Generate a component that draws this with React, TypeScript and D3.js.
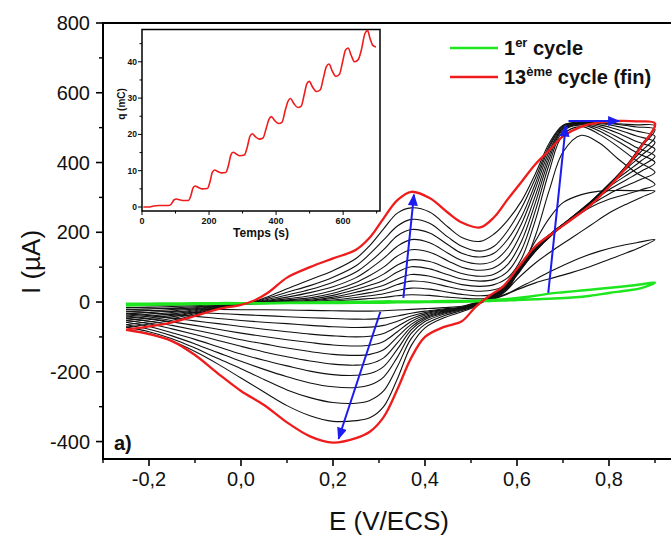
import React from 'react';
import * as d3 from 'd3';

const W = 671;
const H = 537;

// Potential grids (V/ECS)
const E_FWD = [-0.25, -0.2, -0.15, -0.1, -0.05, 0.0, 0.03, 0.06, 0.1, 0.15, 0.2, 0.25, 0.28, 0.31, 0.34, 0.37, 0.41, 0.45, 0.48, 0.52, 0.55, 0.58, 0.61, 0.64, 0.67, 0.7, 0.74, 0.78, 0.82, 0.86, 0.9];
const E_REV = [0.9, 0.87, 0.84, 0.8, 0.76, 0.72, 0.68, 0.64, 0.6, 0.57, 0.54, 0.51, 0.48, 0.44, 0.4, 0.37, 0.34, 0.31, 0.28, 0.25, 0.2, 0.15, 0.1, 0.05, 0.0, -0.05, -0.1, -0.15, -0.2, -0.25];

// Current (µA), forward scans, cycles 1..13
const I_FWD = [
  [-5, -4.5, -4, -3.5, -3, -3, -3, -3, -2, -1, 0, 1, 1, 2, 2, 2, 2, 3, 3, 4, 6, 9, 13, 18, 24, 28, 33, 38, 43, 49, 56],
  [-10, -9.4, -8.8, -7.9, -6.8, -6.1, -5, -4, -3, 0, 3, 7, 10, 13, 18, 21, 19, 14, 11, 9, 12, 25, 45, 65, 86, 105, 128, 146, 160, 170, 179],
  [-16, -14.6, -13, -10.7, -8, -6.2, -5, -3, -1, 1, 6, 13, 18, 24, 33, 40, 37, 28, 22, 18, 22, 40, 105, 175, 240, 285, 308, 318, 320, 319, 318],
  [-22, -19.8, -17.2, -13.5, -9.2, -6.3, -4, -2, 0, 3, 10, 20, 27, 35, 50, 60, 56, 44, 36, 31, 35, 52, 95, 190, 320, 430, 478, 455, 410, 370, 337],
  [-28, -24.9, -21.4, -16.3, -10.4, -6.4, -4, -1, 2, 5, 14, 28, 37, 48, 66, 79, 74, 60, 50, 45, 50, 70, 125, 235, 375, 480, 503, 480, 445, 405, 372],
  [-34, -30, -25.6, -19.2, -11.6, -6.6, -3, 0, 4, 8, 19, 36, 48, 62, 86, 101, 95, 78, 66, 60, 65, 88, 150, 262, 395, 490, 508, 490, 460, 428, 400],
  [-40, -35, -29.8, -22, -12.8, -6.7, -3, 1, 6, 12, 25, 45, 60, 80, 106, 121, 116, 96, 82, 74, 80, 108, 175, 285, 410, 495, 510, 497, 472, 443, 418],
  [-46, -40.4, -34, -24.8, -14, -6.8, -2, 3, 9, 18, 33, 56, 76, 100, 132, 150, 143, 118, 100, 91, 98, 130, 200, 305, 422, 498, 512, 503, 484, 460, 438],
  [-52, -45.6, -38.2, -27.6, -15.2, -6.9, -1, 5, 14, 27, 44, 70, 95, 125, 160, 179, 170, 140, 119, 109, 118, 155, 225, 325, 432, 500, 513, 508, 494, 476, 458],
  [-58, -50.7, -42.4, -30.4, -16.4, -7, 0, 8, 20, 36, 57, 86, 115, 150, 190, 208, 198, 164, 140, 129, 140, 180, 245, 340, 442, 503, 514, 512, 503, 490, 475],
  [-65, -56.7, -47.3, -33.7, -17.8, -7.2, 1, 12, 28, 47, 71, 104, 138, 178, 218, 237, 226, 186, 160, 146, 160, 205, 270, 355, 448, 505, 515, 514, 509, 502, 495],
  [-72, -62.8, -52.2, -37, -19.2, -7.3, 2, 16, 38, 64, 90, 125, 162, 210, 255, 270, 258, 215, 185, 174, 195, 235, 290, 368, 455, 507, 516, 514, 511, 508, 505],
  [-79, -70, -58, -40, -20, -8, 5, 28, 70, 100, 125, 150, 185, 240, 292, 316, 298, 256, 228, 214, 243, 295, 345, 395, 435, 475, 503, 515, 519, 518, 512],
];

// Current (µA), reverse scans, cycles 1..13
const I_REV = [
  [56, 40, 33, 26, 18, 13, 10, 8, 6, 4, 3, 2, 1, 0, 0, -1, -1, -2, -2, -2, -3, -3, -3, -4, -4, -5, -6, -7, -8, -10],
  [179, 158, 142, 122, 102, 85, 70, 55, 35, 18, 5, -2, -12, -16, -19, -21, -23, -25, -26, -26, -25, -24, -23, -22, -22, -21, -20, -19, -17, -16],
  [318, 300, 282, 255, 220, 185, 150, 112, 65, 25, 6, -3, -14, -20, -26, -32, -40, -46, -49, -49, -47, -45, -42, -39, -36, -33, -30, -27, -24, -22],
  [337, 322, 310, 295, 272, 238, 197, 145, 78, 28, 7, -4, -15, -22, -30, -40, -55, -67, -72, -73, -71, -67, -62, -58, -53, -47, -41, -36, -31, -28],
  [372, 352, 335, 310, 278, 240, 198, 146, 79, 29, 7, -5, -16, -24, -34, -48, -70, -90, -98, -100, -97, -92, -85, -78, -70, -62, -54, -46, -39, -34],
  [400, 375, 352, 322, 284, 243, 200, 148, 80, 30, 8, -6, -17, -26, -38, -56, -85, -113, -124, -126, -123, -116, -108, -99, -89, -78, -67, -57, -47, -40],
  [418, 390, 365, 330, 287, 244, 201, 150, 82, 32, 9, -7, -18, -28, -42, -64, -100, -137, -150, -153, -150, -142, -132, -120, -108, -94, -80, -67, -55, -46],
  [438, 405, 375, 335, 288, 244, 202, 152, 84, 34, 10, -8, -19, -30, -46, -72, -117, -160, -177, -181, -178, -169, -157, -143, -127, -110, -93, -77, -62, -52],
  [458, 420, 385, 338, 287, 243, 203, 154, 86, 36, 11, -9, -20, -32, -50, -80, -135, -185, -205, -210, -208, -198, -183, -167, -149, -128, -107, -88, -70, -58],
  [475, 432, 390, 338, 285, 242, 203, 156, 88, 38, 12, -10, -22, -35, -56, -90, -158, -215, -238, -245, -243, -232, -214, -193, -170, -145, -120, -97, -78, -65],
  [495, 445, 395, 337, 283, 241, 203, 158, 90, 40, 14, -11, -24, -40, -64, -105, -185, -255, -282, -290, -288, -274, -252, -222, -191, -162, -132, -105, -85, -72],
  [505, 450, 395, 335, 282, 240, 202, 160, 92, 42, 16, -12, -28, -46, -74, -125, -220, -300, -332, -340, -342, -326, -297, -258, -218, -178, -142, -112, -90, -79],
  [512, 445, 390, 330, 278, 238, 200, 160, 95, 45, 18, -14, -55, -72, -100, -160, -250, -330, -372, -390, -403, -385, -345, -295, -255, -205, -152, -112, -92, -80],
];

const X_TICKS = [-0.2, 0, 0.2, 0.4, 0.6, 0.8];
const X_TICK_LABELS = ['-0,2', '0,0', '0,2', '0,4', '0,6', '0,8'];
const X_MINOR = [-0.3, -0.1, 0.1, 0.3, 0.5, 0.7, 0.9];
const Y_TICKS = [-400, -200, 0, 200, 400, 600, 800];
const Y_MINOR = [-300, -100, 100, 300, 500, 700];

// Inset: charge vs time
const INSET_T = [4, 20, 35, 50, 80, 88, 96, 103, 112, 125, 138, 146, 152, 158, 168, 180, 195, 203, 210, 217, 226, 238, 250, 258, 265, 272, 281, 292, 305, 314, 322, 329, 338, 350, 361, 370, 379, 386, 396, 408, 418, 427, 436, 443, 453, 465, 475, 484, 492, 499, 509, 521, 532, 541, 550, 558, 567, 578, 589, 598, 607, 615, 624, 634, 645, 655, 665, 673, 680, 688, 698];
const INSET_Q = [0, 0, 0.3, 0.4, 0.4, 0.9, 2.0, 2.2, 2.0, 1.8, 1.8, 3.2, 5.2, 5.8, 5.4, 5.0, 5.1, 7.0, 9.6, 10.2, 9.8, 9.4, 9.5, 11.5, 14.3, 15.1, 14.6, 14.1, 14.3, 16.5, 19.5, 20.2, 19.4, 18.7, 19.0, 21.5, 24.2, 24.9, 23.8, 23.0, 23.4, 26.5, 29.2, 29.9, 28.5, 27.4, 27.8, 31.0, 34.0, 34.6, 33.0, 31.8, 32.3, 35.5, 38.7, 39.4, 37.6, 36.0, 36.6, 39.8, 43.2, 43.8, 41.8, 40.0, 40.6, 43.5, 47.8, 48.6, 46.5, 44.6, 44.1];
const INSET_X_TICKS = [0, 200, 400, 600];
const INSET_X_MINOR = [100, 300, 500, 700];
const INSET_Y_TICKS = [0, 10, 20, 30, 40];
const INSET_Y_MINOR = [5, 15, 25, 35, 45];

// Blue arrows [E, I] start -> end
const ARROWS = [
  { from: [0.353, 12], to: [0.376, 308] },
  { from: [0.303, -28], to: [0.212, -392] },
  { from: [0.668, 26], to: [0.706, 506] },
  { from: [0.712, 519], to: [0.822, 519] },
];

const FONT = "'Liberation Sans', Arial, sans-serif";
const BLUE = '#1c1cf0';

export default function App() {
  const x = d3.scaleLinear().domain([-0.3, 0.95]).range([103, 678]);
  const y = d3.scaleLinear().domain([-450, 800]).range([459, 23]);
  const line = d3
    .line<[number, number]>()
    .x((d) => x(d[0]))
    .y((d) => y(d[1]))
    .curve(d3.curveCatmullRom.alpha(0.5));

  const cyclePath = (k: number) => {
    const pts: [number, number][] = [];
    E_FWD.forEach((e, i) => pts.push([e, I_FWD[k][i]]));
    E_REV.forEach((e, i) => {
      if (i > 0) pts.push([e, I_REV[k][i]]);
    });
    return line(pts) || '';
  };

  const xi = d3.scaleLinear().domain([0, 710]).range([142, 380]);
  const yi = d3.scaleLinear().domain([-1.1, 48.9]).range([211, 29.5]);
  const insetLine = d3
    .line<number>()
    .x((_, i) => xi(INSET_T[i]))
    .y((d) => yi(d))
    .curve(d3.curveMonotoneX);

  const blacks = d3.range(1, 12);

  return (
    <svg width={W} height={H} style={{ position: 'absolute', left: 0, top: 0, background: '#fff' }}>
      <defs>
        <clipPath id="plotclip">
          <rect x={103} y={23} width={W - 103} height={436} />
        </clipPath>
        <marker id="ah" viewBox="0 0 12 10" refX="11" refY="5" markerWidth="13" markerHeight="10" markerUnits="userSpaceOnUse" orient="auto">
          <path d="M0,0 L12,5 L0,10 z" fill={BLUE} />
        </marker>
      </defs>
      <rect x={0} y={0} width={W} height={H} fill="#fff" />

      <g clipPath="url(#plotclip)">
        {blacks.map((k) => (
          <path key={k} d={cyclePath(k)} fill="none" stroke="#111" strokeWidth={1.1} />
        ))}
        <path d={cyclePath(0)} fill="none" stroke="#1ee61e" strokeWidth={2.4} />
        <path d={cyclePath(12)} fill="none" stroke="#ee1c1c" strokeWidth={2.3} />
        {ARROWS.map((a, i) => (
          <line key={i} x1={x(a.from[0])} y1={y(a.from[1])} x2={x(a.to[0])} y2={y(a.to[1])} stroke={BLUE} strokeWidth={2} markerEnd="url(#ah)" />
        ))}
      </g>

      {/* Axes frame */}
      <line x1={103} y1={23} x2={103} y2={459} stroke="#000" strokeWidth={2} />
      <line x1={102} y1={459} x2={W} y2={459} stroke="#000" strokeWidth={2} />
      <line x1={102} y1={23} x2={W} y2={23} stroke="#000" strokeWidth={2} />

      {Y_TICKS.map((t) => (
        <g key={t}>
          <line x1={96} x2={103} y1={y(t)} y2={y(t)} stroke="#000" strokeWidth={1.6} />
          <text x={90} y={y(t) + 7} textAnchor="end" fontFamily={FONT} fontSize={20} fill="#111">{t}</text>
        </g>
      ))}
      {Y_MINOR.map((t) => (
        <line key={t} x1={99} x2={103} y1={y(t)} y2={y(t)} stroke="#000" strokeWidth={1.4} />
      ))}
      {X_TICKS.map((t, i) => (
        <g key={t}>
          <line x1={x(t)} x2={x(t)} y1={459} y2={466} stroke="#000" strokeWidth={1.6} />
          <text x={x(t)} y={486} textAnchor="middle" fontFamily={FONT} fontSize={20} fill="#111">{X_TICK_LABELS[i]}</text>
        </g>
      ))}
      {X_MINOR.map((t) => (
        <line key={t} x1={x(t)} x2={x(t)} y1={459} y2={463} stroke="#000" strokeWidth={1.4} />
      ))}

      <text x={389} y={530} textAnchor="middle" fontFamily={FONT} fontSize={26} fill="#111">E (V/ECS)</text>
      <text transform="translate(40,262) rotate(-90)" textAnchor="middle" fontFamily={FONT} fontSize={26} fill="#111">I (µA)</text>

      <text x={114} y={450} fontFamily={FONT} fontSize={20} fontWeight="bold" fill="#111">a)</text>

      {/* Legend */}
      <line x1={450} x2={498} y1={48} y2={48} stroke="#1ee61e" strokeWidth={2.4} />
      <text x={504} y={55} fontFamily={FONT} fontSize={20} fontWeight="bold" fill="#111">
        1<tspan fontSize={13} dy={-8}>er</tspan><tspan dy={8}> cycle</tspan>
      </text>
      <line x1={450} x2={498} y1={77} y2={77} stroke="#ee1c1c" strokeWidth={2.4} />
      <text x={504} y={84} fontFamily={FONT} fontSize={20} fontWeight="bold" fill="#111">
        13<tspan fontSize={13} dy={-8}>ème</tspan><tspan dy={8}> cycle (fin)</tspan>
      </text>

      {/* Inset */}
      <rect x={142} y={29.5} width={238} height={181.5} fill="#fff" stroke="#000" strokeWidth={1.5} />
      <path d={insetLine(INSET_Q) || ''} fill="none" stroke="#ee1c1c" strokeWidth={1.6} />
      {INSET_X_TICKS.map((t) => (
        <g key={t}>
          <line x1={xi(t)} x2={xi(t)} y1={211} y2={215} stroke="#000" strokeWidth={1} />
          <text x={xi(t)} y={224} textAnchor="middle" fontFamily={FONT} fontSize={9} fontWeight="bold" fill="#111">{t}</text>
        </g>
      ))}
      {INSET_X_MINOR.map((t) => (
        <line key={t} x1={xi(t)} x2={xi(t)} y1={211} y2={213.5} stroke="#000" strokeWidth={1} />
      ))}
      {INSET_Y_TICKS.map((t) => (
        <g key={t}>
          <line x1={138} x2={142} y1={yi(t)} y2={yi(t)} stroke="#000" strokeWidth={1} />
          <text x={137} y={yi(t) + 3} textAnchor="end" fontFamily={FONT} fontSize={8.5} fontWeight="bold" fill="#111">{t}</text>
        </g>
      ))}
      {INSET_Y_MINOR.map((t) => (
        <line key={t} x1={139.5} x2={142} y1={yi(t)} y2={yi(t)} stroke="#000" strokeWidth={1} />
      ))}
      <text x={261} y={237} textAnchor="middle" fontFamily={FONT} fontSize={12} fontWeight="bold" fill="#111">Temps (s)</text>
      <text transform="translate(125,104) rotate(-90)" textAnchor="middle" fontFamily={FONT} fontSize={10} fontWeight="bold" fill="#111">q (mC)</text>
    </svg>
  );
}
